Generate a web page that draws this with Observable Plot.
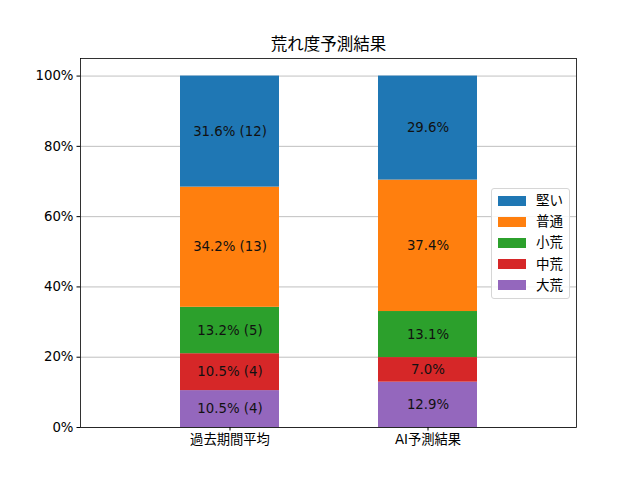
<!DOCTYPE html>
<html>
<head>
<meta charset="utf-8">
<script src="https://cdn.jsdelivr.net/npm/d3@7"></script>
<script src="https://cdn.jsdelivr.net/npm/@observablehq/plot@0.6"></script>
<style>
  body { margin: 0; background: #fff; }
  #wrap { position: relative; width: 640px; height: 480px; font-family: "DejaVu Sans", "Noto Sans CJK JP", sans-serif; }
  #legend { position: absolute; left: 491px; top: 188px; width: 77px; height: 108px; padding: 1px 0 0 0; box-sizing: content-box;
    border: 1px solid #d6d6d6; border-radius: 3px; background: rgba(255,255,255,0.85); font-size: 13.5px; color: #000; }
  .row { display: flex; align-items: center; height: 21.2px; line-height: 21px; overflow: hidden; }
  .sw { width: 28px; height: 10px; margin-left: 6px; margin-right: 10px; flex: none; }
</style>
</head>
<body>
<div id="wrap"><div id="legend"></div></div>
<script>
const title = "荒れ度予測結果";
const groups = ["過去期間平均", "AI予測結果"];
// bottom to top
const categories = ["大荒", "中荒", "小荒", "普通", "堅い"];
const colors = ["#9467bd", "#d62728", "#2ca02c", "#ff7f0e", "#1f77b4"];
const pastValues = [10.5, 10.5, 13.2, 34.2, 31.6];
const pastCounts = [4, 4, 5, 13, 12];
const aiValues = [12.9, 7.0, 13.1, 37.4, 29.6];
const yTicks = [0, 20, 40, 60, 80, 100];

const data = [];
categories.forEach((c, i) => {
  data.push({group: groups[0], cat: c, value: pastValues[i], label: `${pastValues[i].toFixed(1)}% (${pastCounts[i]})`});
});
categories.forEach((c, i) => {
  data.push({group: groups[1], cat: c, value: aiValues[i], label: `${aiValues[i].toFixed(1)}%`});
});

const font = '"DejaVu Sans", "Noto Sans CJK JP", sans-serif';

const chart = Plot.plot({
  width: 640,
  height: 480,
  marginLeft: 80,
  marginRight: 64,
  marginTop: 58,
  marginBottom: 53,
  style: {fontFamily: font, fontSize: "13.3px", color: "#000", background: "#fff"},
  x: {domain: groups, padding: 0.5, label: null},
  y: {domain: [0, 105], label: null},
  color: {domain: categories, range: colors},
  marks: [
    Plot.ruleY(yTicks, {stroke: "#b0b0b0", strokeWidth: 0.8}),
    Plot.barY(data, {x: "group", y: "value", fill: "cat", order: categories}),
    Plot.text(data, Plot.stackY({x: "group", y: "value", z: "cat", order: categories, text: "label", fill: "#111", fontSize: 13.3})),
    Plot.axisY({ticks: yTicks, tickFormat: d => d + "%", tickSize: 3.5, tickPadding: 3.5, label: null, fontSize: 13.3}),
    Plot.axisX({tickSize: 3.5, tickPadding: 3.5, label: null, fontSize: 13.3}),
    Plot.frame({stroke: "#000", strokeWidth: 0.8}),
    Plot.text([title], {frameAnchor: "top", lineAnchor: "middle", dy: -14, fontSize: 16.5, fill: "#000"})
  ]
});
document.getElementById("wrap").prepend(chart);

const legend = document.getElementById("legend");
const legendOrder = [...categories].reverse();
legendOrder.forEach(c => {
  const row = document.createElement("div");
  row.className = "row";
  const sw = document.createElement("div");
  sw.className = "sw";
  sw.style.background = colors[categories.indexOf(c)];
  const t = document.createElement("span");
  t.textContent = c;
  row.appendChild(sw);
  row.appendChild(t);
  legend.appendChild(row);
});
</script>
</body>
</html>
